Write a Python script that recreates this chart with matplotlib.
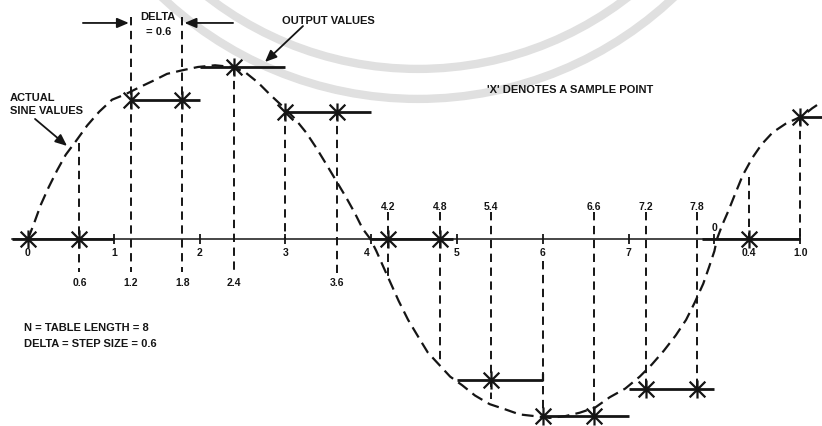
import numpy as np
import matplotlib
matplotlib.use("Agg")
import matplotlib.pyplot as plt
from matplotlib.path import Path
from matplotlib.patches import Ellipse
from matplotlib import font_manager

# ---------------------------------------------------------------------------
# Data
# ---------------------------------------------------------------------------
# "Actual sine values" curve: argument in table-index units, value in sine units
curve_x = [0.00, 0.07, 0.15, 0.24, 0.34, 0.44, 0.56, 0.69, 0.83, 0.98, 1.13,
           1.29, 1.46, 1.62, 1.79, 1.98, 2.18, 2.38, 2.53, 2.68, 2.82, 2.97,
           3.11, 3.24, 3.36, 3.47, 3.59, 3.71, 3.81, 3.90, 3.99,
           4.06, 4.14, 4.23, 4.32, 4.43, 4.55, 4.66, 4.79, 4.92, 5.06, 5.21,
           5.38, 5.56, 5.73, 5.91, 6.08, 6.26, 6.43, 6.61, 6.78, 6.96, 7.13,
           7.27, 7.41, 7.55, 7.67, 7.77, 7.87, 7.94, 8.00, 8.03,
           8.09, 8.16, 8.24, 8.33, 8.44, 8.55, 8.68, 8.83, 8.96, 9.04, 9.14,
           9.23]
curve_y = [0.00, 0.09, 0.20, 0.30, 0.40, 0.49, 0.57, 0.66, 0.74, 0.81, 0.84,
           0.88, 0.92, 0.96, 0.98, 1.00, 1.01, 1.00, 0.97, 0.91, 0.84, 0.77,
           0.70, 0.62, 0.53, 0.44, 0.34, 0.24, 0.15, 0.06, 0.00,
           -0.07, -0.16, -0.26, -0.36, -0.47, -0.57, -0.66, -0.73, -0.80,
           -0.85, -0.91, -0.96, -0.99, -1.02, -1.03, -1.04, -1.03, -1.01,
           -0.98, -0.92, -0.87, -0.80, -0.73, -0.65, -0.56, -0.47, -0.37,
           -0.26, -0.16, -0.07, 0.00,
           0.08, 0.16, 0.26, 0.37, 0.47, 0.55, 0.62, 0.67, 0.70, 0.72, 0.76,
           0.79]

# Sample points (step DELTA = 0.6) and the table output held at each one
sample_x = [0.0, 0.6, 1.2, 1.8, 2.4, 3.0, 3.6, 4.2, 4.8, 5.4, 6.0, 6.6,
            7.2, 7.8, 8.4, 9.0]
sample_out = [0.0, 0.0, 0.81, 0.81, 1.00, 0.74, 0.74, 0.0, 0.0, -0.82,
              -1.03, -1.03, -0.87, -0.87, 0.0, 0.71]

# Output staircase: one held level per table interval
step_start = [-0.19, 1.2, 2.0, 3.0, 4.0, 5.0, 6.0, 7.0, 7.85, 9.0]
step_end = [1.0, 2.0, 3.0, 4.0, 4.95, 6.0, 7.0, 8.0, 9.0, 9.3]
step_level = [0.0, 0.81, 1.00, 0.74, 0.0, -0.82, -1.03, -0.87, 0.0, 0.71]

# Projection lines from each sample (upper and lower end)
guide_x = [0.6, 1.2, 1.8, 2.4, 3.0, 3.6, 4.2, 4.8, 5.4, 6.0, 6.6, 7.2,
           7.8, 8.4, 9.0]
guide_top = [0.56, 1.29, 1.29, 1.00, 0.74, 0.74, 0.155, 0.155, 0.155,
             -0.13, 0.155, 0.155, 0.155, 0.36, 0.71]
guide_bottom = [-0.19, -0.19, -0.19, -0.19, 0.0, -0.20, -0.23, -0.72,
                -0.93, -1.03, -1.03, -0.87, -0.87, 0.0, 0.0]

# Axis ticks and labels
int_ticks = [1, 2, 3, 4, 5, 6, 7, 8, 9]
below_text = ["0", "1", "2", "3", "4", "5", "6", "7", "0.4", "1.0"]
below_pos = [0.0, 1.0, 2.0, 3.0, 3.95, 5.0, 6.0, 7.0, 8.4, 9.0]
above_text = ["4.2", "4.8", "5.4", "6.6", "7.2", "7.8"]
above_pos = [4.2, 4.8, 5.4, 6.6, 7.2, 7.8]
lower_text = ["0.6", "1.2", "1.8", "2.4", "3.6"]
lower_pos = [0.6, 1.2, 1.8, 2.4, 3.6]

# ---------------------------------------------------------------------------
# Figure
# ---------------------------------------------------------------------------
plt.rcParams["lines.scale_dashes"] = False
names = {f.name for f in font_manager.fontManager.ttflist}
family = "Liberation Sans" if "Liberation Sans" in names else "DejaVu Sans"
plt.rcParams["font.family"] = [family, "DejaVu Sans"]

ink = "#151515"
fig = plt.figure(figsize=(8.22, 4.27), dpi=100)
ax = fig.add_axes([0, 0, 1, 1])
ax.set_xlim(-0.3263, 9.2541)
ax.set_ylim(-1.0872, 1.3953)
ax.axis("off")

# faint circular seal in the background
px_x, px_y = 85.8, 172.0
for r_px in (373, 343):
    ring = Ellipse((4.545, 2.983), 2 * r_px / px_x, 2 * r_px / px_y,
                   fill=False, lw=6.0, ec="#e0e0e0", zorder=0)
    ax.add_patch(ring)

# horizontal axis
ax.plot([-0.19, 9.0], [0, 0], color=ink, lw=1.1, zorder=2)
ax.vlines(int_ticks, -0.03, 0.03, color=ink, lw=1.3, zorder=2)

# sine curve
ax.plot(curve_x, curve_y, color=ink, lw=1.6, dashes=(8.5, 4.5), zorder=3)

# projection lines
for gx, gt, gb in zip(guide_x, guide_top, guide_bottom):
    ax.plot([gx, gx], [gt, gb], color=ink, lw=1.4, dashes=(6.0, 4.0),
            zorder=3)

# output staircase
for s0, s1, lv in zip(step_start, step_end, step_level):
    ax.plot([s0, s1], [lv, lv], color=ink, lw=2.0, solid_capstyle="butt",
            zorder=4)
ax.plot([6.0, 6.0], [-0.82, -0.79], color=ink, lw=1.6, zorder=4)

# sample markers
star = Path([(-1, -1), (1, 1), (-1, 1), (1, -1), (0, -1.15), (0, 1.15)],
            [Path.MOVETO, Path.LINETO, Path.MOVETO, Path.LINETO,
             Path.MOVETO, Path.LINETO])
ax.plot(sample_x, sample_out, linestyle="none", marker=star, markersize=13,
        markeredgewidth=1.6, markerfacecolor="none", markeredgecolor=ink,
        zorder=5)

# axis labels
lbl = dict(fontsize=7.5, fontweight="bold", color=ink, ha="center",
           va="center", zorder=6)
for t, x in zip(below_text, below_pos):
    ax.text(x, -0.076, t, **lbl)
for t, x in zip(above_text, above_pos):
    ax.text(x, 0.19, t, **lbl)
for t, x in zip(lower_text, lower_pos):
    ax.text(x, -0.25, t, **lbl)
ax.text(8.0, 0.07, "0", **lbl)

# annotations
note = dict(fontsize=8, fontweight="bold", color=ink, va="center", zorder=6)
ax.text(1.515, 1.297, "DELTA", ha="center", **note)
ax.text(1.527, 1.209, "= 0.6", ha="center", **note)
ax.text(2.96, 1.273, "OUTPUT VALUES", ha="left", **note)
ax.text(-0.21, 0.826, "ACTUAL", ha="left", **note)
ax.text(-0.21, 0.750, "SINE VALUES", ha="left", **note)
ax.text(5.35, 0.872, "'X' DENOTES A SAMPLE POINT", ha="left", **note)
ax.text(-0.05, -0.51, "N = TABLE LENGTH = 8", ha="left", **note)
ax.text(-0.05, -0.605, "DELTA = STEP SIZE = 0.6", ha="left", **note)

arrow = dict(arrowstyle="-|>,head_length=0.7,head_width=0.3", lw=1.3,
             color=ink, shrinkA=0, shrinkB=0)
ax.annotate("", xy=(1.175, 1.256), xytext=(0.64, 1.256), arrowprops=arrow,
            annotation_clip=False)
ax.annotate("", xy=(1.825, 1.256), xytext=(2.39, 1.256), arrowprops=arrow,
            annotation_clip=False)
ax.annotate("", xy=(2.762, 1.029), xytext=(3.205, 1.238), arrowprops=arrow)
ax.annotate("", xy=(0.455, 0.541), xytext=(0.082, 0.698), arrowprops=arrow)

fig.savefig("out.png", dpi=100, facecolor="white")
